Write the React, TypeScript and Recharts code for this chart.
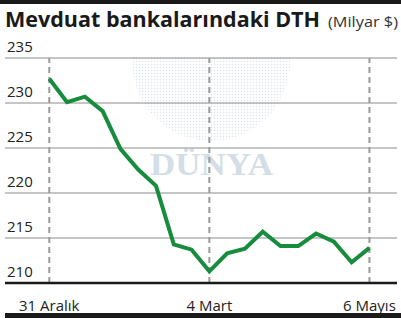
import React from 'react';
import {
  LineChart,
  Line,
  XAxis,
  YAxis,
  CartesianGrid,
  ReferenceLine,
} from 'recharts';

const weeks = [
  '31 Aralık', '7 Ocak', '14 Ocak', '21 Ocak', '28 Ocak', '4 Şubat', '11 Şubat',
  '18 Şubat', '25 Şubat', '4 Mart', '11 Mart', '18 Mart', '25 Mart', '1 Nisan',
  '8 Nisan', '15 Nisan', '22 Nisan', '29 Nisan', '6 Mayıs',
];
const dthValues = [
  232.7, 230.1, 230.7, 229.1, 224.9, 222.6, 220.8, 214.3, 213.7, 211.3,
  213.3, 213.8, 215.7, 214.1, 214.1, 215.5, 214.6, 212.3, 213.9,
];
const labeledWeeks = [0, 9, 18];
const yTicks = [210, 215, 220, 225, 230, 235];
const title = 'Mevduat bankalarındaki DTH';
const unit = '(Milyar $)';
const watermark = 'DÜNYA';

const data = weeks.map((w, i) => ({ i, week: w, value: dthValues[i] }));

const FONT = '"Open Sans", "Noto Sans", sans-serif';

const YTick = (props: any) => {
  const { y, payload } = props;
  return (
    <text x={7} y={y - 6} fontSize={15} fontFamily={FONT} fill="#222" textAnchor="start">
      {payload.value}
    </text>
  );
};

const XTick = (props: any) => {
  const { x, y, payload } = props;
  return (
    <text x={x} y={y + 20} fontSize={15} fontFamily={FONT} fill="#222" textAnchor="middle">
      {weeks[payload.value]}
    </text>
  );
};

export default function App() {
  return (
    <div style={{ position: 'absolute', left: 0, top: 0, width: 401, height: 318, background: '#fff', overflow: 'hidden' }}>
      <svg width={401} height={318} style={{ position: 'absolute', left: 0, top: 0 }}>
        <defs>
          <pattern id="dots" width="3" height="3" patternUnits="userSpaceOnUse">
            <circle cx="1.5" cy="1.5" r="0.75" fill="#c3d2dc" />
          </pattern>
          <clipPath id="globeClip">
            <rect x={120} y={58} width={180} height={100} />
          </clipPath>
        </defs>
        <rect x={0} y={0} width={401} height={4} fill="#1a1a1a" />
        <rect x={5} y={313} width={396} height={5} fill="#1a1a1a" />
        <g clipPath="url(#globeClip)" opacity={0.6}>
          <ellipse cx={211} cy={62} rx={79} ry={79} fill="url(#dots)" />
        </g>
        <text x={150} y={175} fontSize={32} fontWeight="bold" fontFamily='"Liberation Serif", serif' fill="#d3dee7" textLength={123} lengthAdjust="spacingAndGlyphs">
          {watermark}
        </text>
        <text x={5} y={27} fontSize={20.5} fontWeight="bold" fontFamily={FONT} fill="#1a1a1a" textLength={315} lengthAdjust="spacingAndGlyphs">
          {title}
        </text>
        <text x={328} y={27} fontSize={15} fontFamily={FONT} fill="#333" textLength={70} lengthAdjust="spacingAndGlyphs">
          {unit}
        </text>
      </svg>
      <div style={{ position: 'absolute', left: 0, top: 0 }}>
        <LineChart width={401} height={318} data={data} margin={{ top: 58, right: 4, bottom: 0, left: 5 }}>
          <CartesianGrid vertical={false} stroke="#8c8c8c" strokeWidth={1} />
          <XAxis
            dataKey="i"
            type="number"
            domain={[-2.49, 19.55]}
            ticks={labeledWeeks}
            allowDataOverflow
            height={35}
            tickLine={false}
            axisLine={{ stroke: '#1a1a1a', strokeWidth: 2.5 }}
            tick={<XTick />}
            interval={0}
          />
          <YAxis
            domain={[210, 235]}
            ticks={yTicks}
            mirror
            width={40}
            axisLine={false}
            tickLine={false}
            tick={<YTick />}
            interval={0}
          />
          {labeledWeeks.map((w) => (
            <ReferenceLine key={w} x={w} stroke="#9a9a9a" strokeWidth={2} strokeDasharray="6 4" />
          ))}
          <Line
            type="linear"
            dataKey="value"
            stroke="#178c3d"
            strokeWidth={4}
            dot={false}
            isAnimationActive={false}
            strokeLinejoin="miter"
          />
        </LineChart>
      </div>
    </div>
  );
}
